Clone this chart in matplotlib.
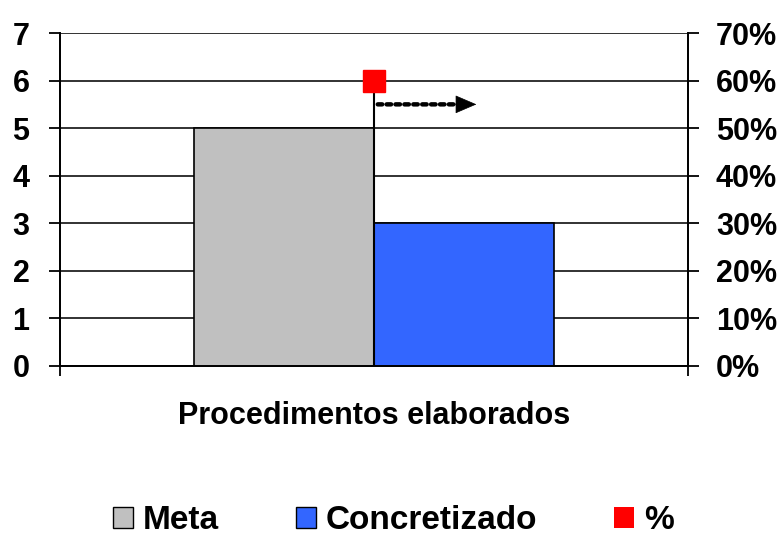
import matplotlib.pyplot as plt
from matplotlib.patches import Patch

plt.rcParams['font.family'] = ['Liberation Sans', 'DejaVu Sans']
plt.rcParams['font.weight'] = 'bold'

# dados
categoria = ['Procedimentos elaborados']
series = ['Meta', 'Concretizado']
valores = [5, 3]
percentagem = [0.60]
cores = ['#c0c0c0', '#3366ff']

fig = plt.figure(figsize=(7.82, 5.35), dpi=100)
ax = fig.add_axes([0.0767, 0.3159, 0.8031, 0.6224])
ax2 = ax.twinx()

largura = 0.287
for i, (nome, v, c) in enumerate(zip(series, valores, cores)):
    pos = (i - 0.5) * largura
    ax.bar(pos, v, width=largura, color=c, edgecolor='black', linewidth=1.2, zorder=3)

ax.set_xlim(-0.5, 0.5)
ax.set_ylim(0, 7)
ax.set_yticks(range(0, 8))
ax.grid(axis='y', color='#222222', linewidth=1.3, zorder=0)
ax.set_axisbelow(True)

ax.set_xticks([0])
ax.set_xticklabels(categoria, fontsize=22, fontweight='bold')
ax.tick_params(axis='x', which='major', length=0, pad=25)
ax.set_xticks([-0.5, 0.5], minor=True)
ax.tick_params(axis='x', which='minor', length=7, width=1.3, direction='out')
ax.tick_params(axis='y', length=8, width=1.3, labelsize=22, pad=14)
for lbl in ax.get_yticklabels():
    lbl.set_fontweight('bold')

# eixo secundario (%)
ax2.set_ylim(0, 0.7)
ax2.set_yticks([i / 10 for i in range(8)])
ax2.set_yticklabels([f'{i*10}%' for i in range(8)], fontsize=22, fontweight='bold')
ax2.tick_params(axis='y', length=8, width=1.3, pad=12)
ax2.vlines(0, 0, percentagem[0], color='black', linewidth=1.5, zorder=4)
ax2.plot([0], percentagem, marker='s', markersize=16.5, color='#ff0000',
         linestyle='none', zorder=5)

for a in (ax, ax2):
    a.spines['top'].set_visible(False)
    for s in ('left', 'right', 'bottom'):
        a.spines[s].set_linewidth(1.3)

# seta pontilhada (corpo pontilhado + ponta cheia)
ax.annotate('', xy=(0.148, 5.5), xytext=(0.006, 5.5),
            arrowprops=dict(arrowstyle='-', linestyle=(0, (1, 1)),
                            color='black', lw=3.2, shrinkA=0, shrinkB=0),
            zorder=6)
ax.annotate('', xy=(0.163, 5.5), xytext=(0.146, 5.5),
            arrowprops=dict(arrowstyle='-|>,head_length=0.7,head_width=0.3',
                            color='black', lw=0.5, mutation_scale=20,
                            shrinkA=0, shrinkB=0),
            zorder=6)

handles = [Patch(facecolor=cores[0], edgecolor='black', linewidth=1),
           Patch(facecolor=cores[1], edgecolor='black', linewidth=1),
           Patch(facecolor='#ff0000', edgecolor='none')]
fig.legend(handles, series + ['%'], loc='center', bbox_to_anchor=(0.503, 0.027),
           ncol=3, frameon=False, prop={'size': 24, 'weight': 'bold'},
           handlelength=0.6, handleheight=0.6, handletextpad=0.3,
           columnspacing=2.3)

fig.savefig('out.png', dpi=100)
